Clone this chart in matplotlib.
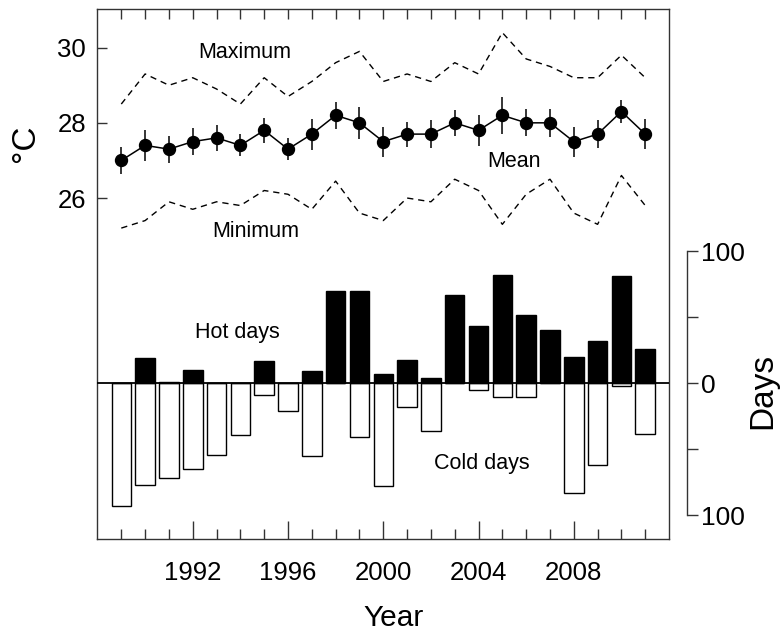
import matplotlib
matplotlib.use("Agg")
import matplotlib.pyplot as plt
import numpy as np

plt.rcParams['font.family'] = ['Liberation Sans', 'DejaVu Sans']

years = list(range(1989, 2012))
t_mean = [27.0, 27.4, 27.3, 27.5, 27.6, 27.4, 27.8, 27.3, 27.7, 28.2, 28.0, 27.5,
          27.7, 27.7, 28.0, 27.8, 28.2, 28.0, 28.0, 27.5, 27.7, 28.3, 27.7]
t_err = [0.36, 0.42, 0.36, 0.36, 0.34, 0.29, 0.33, 0.29, 0.41, 0.36, 0.42, 0.40,
         0.33, 0.37, 0.34, 0.42, 0.50, 0.36, 0.37, 0.40, 0.38, 0.30, 0.40]
t_max = [28.5, 29.3, 29.0, 29.2, 28.9, 28.5, 29.2, 28.7, 29.1, 29.6, 29.9, 29.1,
         29.3, 29.1, 29.6, 29.3, 30.4, 29.7, 29.5, 29.2, 29.2, 29.8, 29.2]
t_min = [25.2, 25.4, 25.9, 25.7, 25.9, 25.8, 26.2, 26.1, 25.7, 26.45, 25.6, 25.4,
         26.0, 25.9, 26.5, 26.2, 25.3, 26.1, 26.5, 25.6, 25.3, 26.6, 25.8]
hot_days = [0, 19, 1, 10, 0, 0, 17, 0, 9, 70, 70, 7,
            18, 4, 67, 43, 82, 52, 40, 20, 32, 81, 26]
cold_days = [93, 77, 72, 65, 54, 39, 9, 21, 55, 0, 41, 78,
             18, 36, 0, 5, 10, 10, 0, 83, 62, 2, 38]
major_years = [1992, 1996, 2000, 2004, 2008]
days_ticks = [-100, -50, 0, 50, 100]
days_labels = ['100', '', '0', '', '100']

W, H = 780, 634
fig = plt.figure(figsize=(W / 100, H / 100), dpi=100)
L, R, T, B = 97, 669.3, 9.3, 539
ax = fig.add_axes([L / W, 1 - B / H, (R - L) / W, (B - T) / H])

spine_c = '#333333'
dash = (0, (4.5, 3.5))
# temperature
ax.plot(years, t_max, color='black', lw=1.0, ls=dash)
ax.plot(years, t_min, color='black', lw=1.0, ls=dash)
ax.errorbar(years, t_mean, yerr=t_err, color='black', lw=1.1, elinewidth=1.1,
            capsize=0, marker='o', markersize=8.6, zorder=5)
ax.set_xlim(1987.98, 2012.01)
ax.set_ylim(16.93, 31.02)
ax.set_yticks([26, 28, 30])
ax.set_xticks(major_years)
ax.set_xticks(years, minor=True)
ax.set_xticklabels([str(y) for y in major_years])
ax.tick_params(axis='y', direction='in', length=7.3, width=1.0, left=True, right=True,
               labelsize=18.5, pad=8, color=spine_c)
ax.tick_params(axis='x', which='major', direction='in', length=13, width=1.0,
               labelsize=18.5, pad=16, color=spine_c, top=False)
ax.tick_params(axis='x', which='minor', direction='in', length=7.3, width=1.0,
               color=spine_c, top=False)
for s in ax.spines.values():
    s.set_color(spine_c)
    s.set_linewidth(1.0)

top = ax.secondary_xaxis('top')
top.set_xticks(years)
top.set_xticklabels([])
top.tick_params(direction='in', length=7.3, width=1.0, color=spine_c)
top.spines['top'].set_visible(False)

ax.text(1994.19, 29.86, 'Maximum', fontsize=15.5, ha='center', va='center')
ax.text(2005.48, 26.96, 'Mean', fontsize=15.5, ha='center', va='center')
ax.text(1994.63, 25.10, 'Minimum', fontsize=15.5, ha='center', va='center')

# days
ax2 = ax.twinx()
px_per_day = (516 - 251.7) / 200.0
zero_y = 383.3
ax2.set_ylim(-(B - zero_y) / px_per_day, (zero_y - T) / px_per_day)
ax2.bar(years, hot_days, width=0.82, color='black', edgecolor='black', lw=1.0, zorder=3)
ax2.bar(years, [-c for c in cold_days], width=0.82, color='white', edgecolor='black',
        lw=1.0, zorder=2)
ax2.axhline(0, color='black', lw=1.3, zorder=4)
ax2.text(1993.86, 38.3, 'Hot days', fontsize=15.5, ha='center', va='center')
ax2.text(2004.12, -61, 'Cold days', fontsize=15.5, ha='center', va='center')
for k in ['left', 'top', 'bottom']:
    ax2.spines[k].set_visible(False)
ax2.spines['right'].set_position(('axes', (687.3 - L) / (R - L)))
ax2.spines['right'].set_bounds(-100, 100)
ax2.spines['right'].set_color(spine_c)
ax2.spines['right'].set_linewidth(1.0)
ax2.set_yticks(days_ticks)
ax2.set_yticklabels(days_labels)
ax2.tick_params(axis='y', direction='out', length=8, width=1.0, labelsize=19,
                pad=2, color=spine_c)

fig.text(26 / W, 1 - 143 / H, '°C', fontsize=24, rotation=90, ha='center', va='center')
fig.text(394 / W, 1 - 618 / H, 'Year', fontsize=21.5, ha='center', va='center')
fig.text(762.7 / W, 1 - 391 / H, 'Days', fontsize=24, rotation=90, ha='center', va='center')

fig.savefig('out.png', dpi=100)
